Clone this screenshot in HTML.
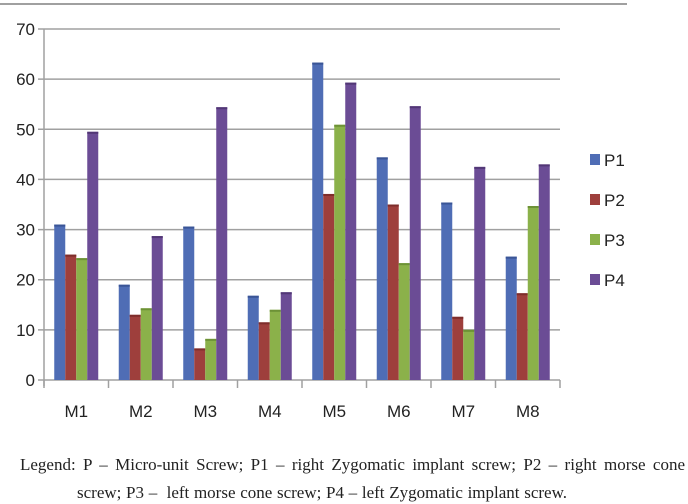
<!DOCTYPE html>
<html><head><meta charset="utf-8"><style>
body{margin:0;background:#fff;width:688px;height:504px;overflow:hidden}
.cap{position:absolute;font-family:"Liberation Serif",serif;font-size:17px;color:#222;white-space:nowrap;line-height:20px}
</style></head><body>
<svg id="chart" width="688" height="440" style="position:absolute;left:0;top:0" font-family="Liberation Sans, sans-serif"></svg>
<div class="cap" style="top:455px;left:20px;width:665px;text-align:justify;text-align-last:justify;white-space:normal">Legend: P – Micro-unit Screw; P1 – right Zygomatic implant screw; P2 – right morse cone</div>
<div class="cap" style="top:483px;left:77px;width:490px;text-align:justify;text-align-last:justify;white-space:normal">screw; P3 –&nbsp; left morse cone screw; P4 – left Zygomatic implant screw.</div>
<script>
const categories=["M1","M2","M3","M4","M5","M6","M7","M8"];
const seriesNames=["P1","P2","P3","P4"];
const p1=[31,19,30.6,16.8,63.3,44.4,35.4,24.6];
const p2=[25,13,6.3,11.5,37.1,35,12.6,17.3];
const p3=[24.3,14.3,8.2,14,50.9,23.3,10,34.7];
const p4=[49.5,28.7,54.4,17.5,59.3,54.6,42.5,43];
const yTicks=[0,10,20,30,40,50,60,70];
const series=[p1,p2,p3,p4];
const colors=["#4f6db5","#9e3f3c","#8bb14a","#6b4c95"];
const topColors=["#3a5596","#7e2d2b","#6d9236","#523776"];
const svg=document.getElementById('chart');
const NS="http://www.w3.org/2000/svg";
const X0=44,X1=560,Y0=380,Y1=29,YMAX=70;
const y=v=>Y0-(v/YMAX)*(Y0-Y1);
const cw=(X1-X0)/categories.length;
const bw=11;
function mk(t,a){const e=document.createElementNS(NS,t);for(const k in a)e.setAttribute(k,a[k]);svg.appendChild(e);return e;}
const rule=mk('line',{x1:0,x2:627,y1:4,y2:4,stroke:'#a0a0a0','stroke-width':2});


yTicks.forEach(t=>{
  const g=mk('line',{x1:X0-6,x2:X1,y1:y(t),y2:y(t),stroke:'#a0a0a0','stroke-width':1.5});
  
  
  const l=mk('text',{x:35,y:y(t)+6,'text-anchor':'end','font-size':17,fill:'#222'});
  l.textContent=t;
  
  
});
const ax=mk('line',{x1:X0,x2:X0,y1:Y1,y2:Y0+6,stroke:'#a0a0a0','stroke-width':1.5});


for(let i=0;i<=categories.length;i++){
  const tk=mk('line',{x1:X0+i*cw,x2:X0+i*cw,y1:Y0,y2:Y0+8,stroke:'#a0a0a0','stroke-width':1.5});
  
  
}
categories.forEach((c,i)=>{
  const cx=X0+cw*(i+0.5);
  series.forEach((s,j)=>{
    const bx=cx-2*bw+j*bw;
    const r=mk('rect',{x:bx,y:y(s[i]),width:bw,height:Y0-y(s[i]),fill:colors[j]});
    
    
    const e=mk('rect',{x:bx,y:y(s[i]),width:bw,height:2,fill:topColors[j]});
    
    
  });
  const l=mk('text',{x:cx,y:417,'text-anchor':'middle','font-size':17,fill:'#222'});
  l.textContent=c;
  
  
});
seriesNames.forEach((n,j)=>{
  const ly=160+j*40;
  const s=mk('rect',{x:590,y:ly-6,width:10,height:11,fill:colors[j]});
  
  
  const t=mk('text',{x:604,y:ly+6,'font-size':17,fill:'#222'});
  t.textContent=n;
  
  
});
</script>
</body></html>
